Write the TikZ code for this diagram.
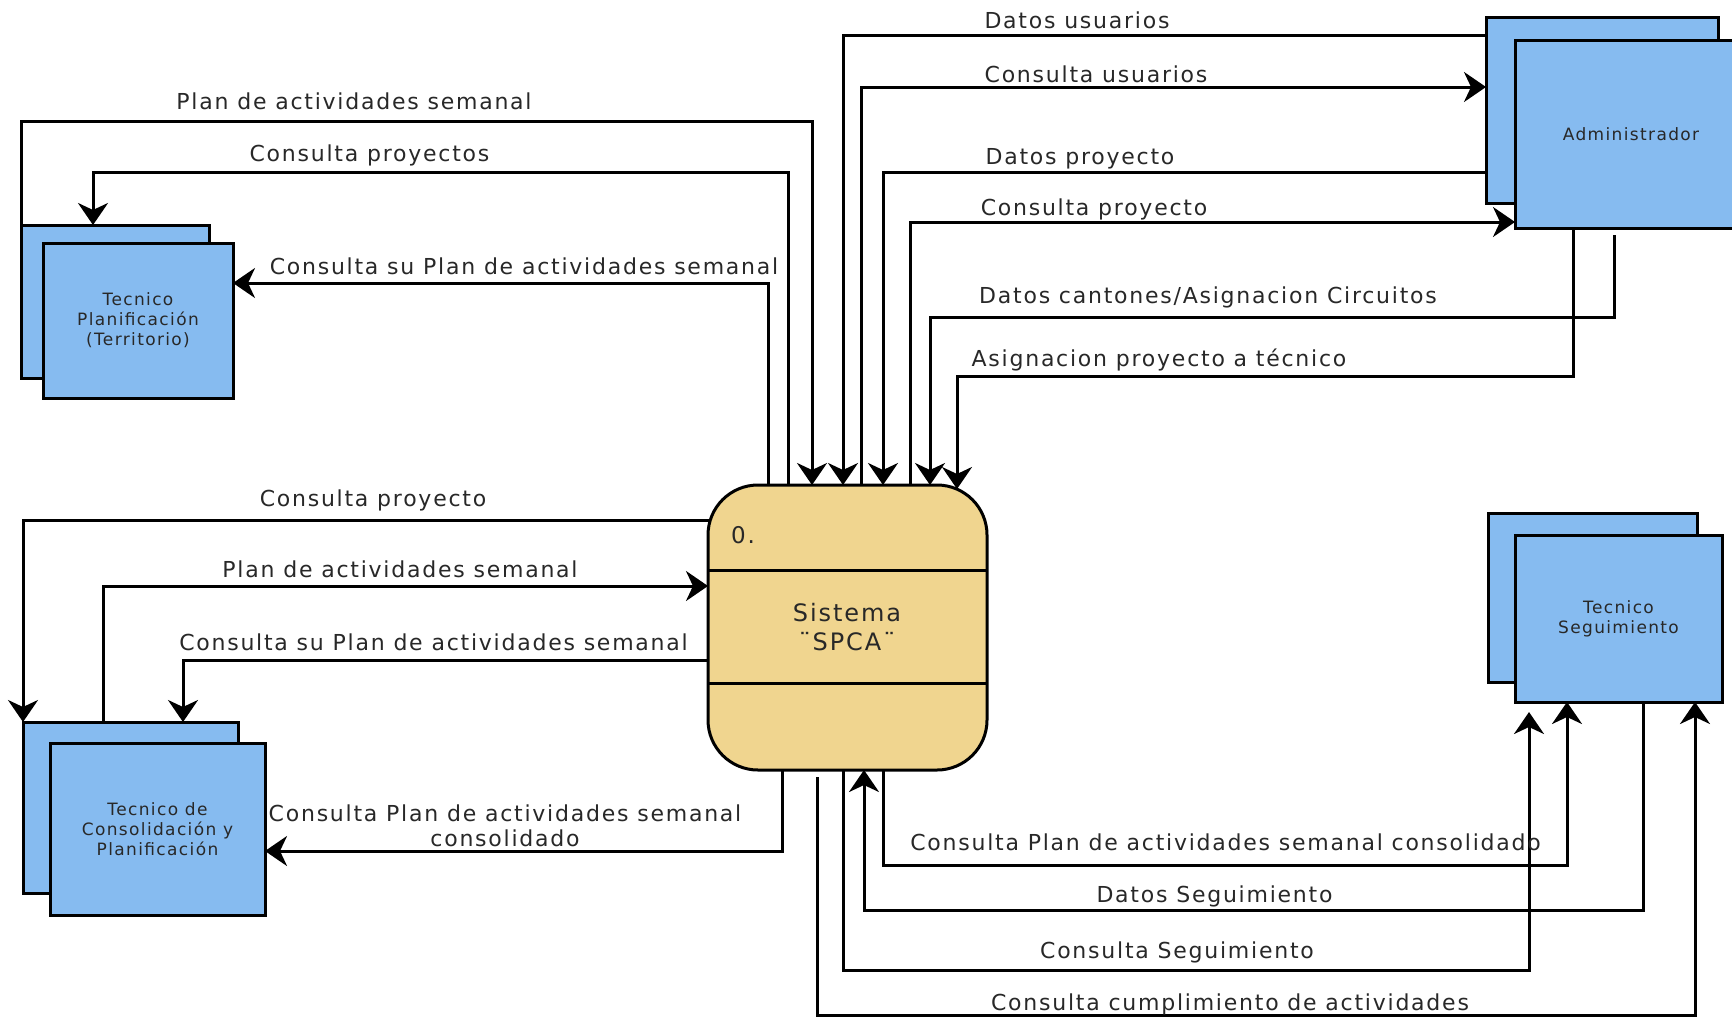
\documentclass[tikz,border=0pt]{standalone}
\usepackage{fontspec}
\setmainfont{DejaVu Sans}[LetterSpace=8]
\usetikzlibrary{arrows.meta,calc}
\definecolor{boxblue}{RGB}{134,187,240}
\definecolor{systan}{RGB}{240,213,143}
\definecolor{txt}{RGB}{40,40,40}
\begin{document}
\begin{tikzpicture}[x=0.5pt,y=-0.5pt,
  ent/.style={draw=black,line width=1.5pt,fill=boxblue,inner sep=0pt,outer sep=0pt,
    font=\fontsize{8.5}{10}\selectfont,text=txt,align=center},
  sysbox/.style={draw=black,line width=1.5pt,fill=systan,rounded corners=25pt,inner sep=0pt,outer sep=0pt,
    minimum width=139.5pt,minimum height=142.5pt},
  flow/.style={line width=1.5pt,-{Stealth[length=11pt,width=15pt,inset=3.5pt]}},
  plain/.style={line width=1.5pt},
  lbl/.style={font=\fontsize{11}{12.5}\selectfont,text=txt,inner sep=0pt,align=center}]
\fill[white] (0,0) rectangle (1732,1017);
\useasboundingbox (0,0) rectangle (1732,1017);
\clip (0,0) rectangle (1732,1017);

% external entities
\node[ent,minimum width=94pt,minimum height=76.5pt] (planB) at (115,301.5) {};
\node[ent,minimum width=95pt,minimum height=77.5pt] (planF) at (138,320.5) {Tecnico\\Planificación\\(Territorio)};
\node[ent,minimum width=107.5pt,minimum height=85.5pt] (consB) at (130.5,807.5) {};
\node[ent,minimum width=107.5pt,minimum height=86pt] (consF) at (157.5,829) {Tecnico de\\Consolidación y\\Planificación};
\node[ent,minimum width=116pt,minimum height=93pt] (admB) at (1602,110) {};
\node[ent,minimum width=116pt,minimum height=94pt] (admF) at (1631,134) {Administrador};
\node[ent,minimum width=104.5pt,minimum height=84.5pt] (segB) at (1592.5,597.5) {};
\node[ent,minimum width=103.5pt,minimum height=83.5pt] (segF) at (1618.5,618.5) {Tecnico\\Seguimiento};

% process
\node[sysbox] (sys) at (847.5,627.5) {};
\draw[plain] ($(sys.north west)+(0,85)$) -- ($(sys.north east)+(0,85)$);
\draw[plain] ($(sys.north west)+(0,198)$) -- ($(sys.north east)+(0,198)$);
\node[font=\fontsize{11.5}{13}\selectfont,text=txt,inner sep=0pt] (sysnum) at (743,535) {0.};
\node[font=\fontsize{12}{14.5}\selectfont,text=txt,align=center,inner sep=0pt] (sysname) at (847,627) {Sistema\\¨SPCA¨};

% flows top-left
\draw[flow] (planB.north west) -- ++(0,-104) -| ($(sys.north west)+(104,0)$);
\draw[flow] ($(sys.north west)+(80,0)$) -- ++(0,-313) -| ($(planB.north west)+(72,0)$);
\draw[flow] ($(sys.north west)+(60,0)$) |- ($(planF.north east)+(0,40)$);

% flows top-right
\draw[flow] ($(admB.north west)+(0,18)$) -| ($(sys.north west)+(135,0)$);
\draw[flow] ($(sys.north west)+(153,0)$) |- ($(admB.north west)+(0,70)$);
\draw[flow] ($(admB.north west)+(0,155)$) -| ($(sys.north west)+(175,0)$);
\draw[flow] ($(sys.north west)+(202,0)$) |- ($(admF.south west)+(0,-6)$);
\draw[flow] ($(admF.south west)+(99,7)$) -- ++(0,82) -| ($(sys.north west)+(222,0)$);
\draw[flow] ($(admF.south west)+(58,0)$) -- ++(0,148) -| ($(sys.north west)+(249,4)$);

% flows left
\draw[flow] ($(sys.north west)+(2,35)$) -| (consB.north west);
\draw[flow] ($(consB.north west)+(80,0)$) |- ($(sys.north west)+(0,101)$);
\draw[flow] ($(sys.north west)+(0,175)$) -| ($(consB.north west)+(160,0)$);
\draw[flow] ($(sys.south west)+(74,0)$) |- ($(consF.north east)+(0,108)$);

% flows bottom-right
\draw[flow] ($(sys.south west)+(175,0)$) -- ++(0,95) -| ($(segF.south west)+(52,0)$);
\draw[flow] ($(segF.south west)+(128,0)$) -- ++(0,208) -| ($(sys.south west)+(156,0)$);
\draw[flow] ($(sys.south west)+(135,0)$) -- ++(0,200) -| ($(segF.south west)+(14,10)$);
\draw[flow] ($(sys.south west)+(109,7)$) -- ++(0,238) -| ($(segF.south west)+(180,0)$);

% labels
\node[lbl] (t1) at (1077,20) {Datos usuarios};
\node[lbl] (t2) at (1096,74) {Consulta usuarios};
\node[lbl] (t3) at (1080,159) {Datos proyecto};
\node[lbl] (t4) at (1094,209) {Consulta proyecto};
\node[lbl] (t5) at (1208,297) {Datos cantones/Asignacion Circuitos};
\node[lbl] (t6) at (1159,360) {Asignacion proyecto a técnico};
\node[lbl] (t7) at (354,101) {Plan de actividades semanal};
\node[lbl] (t8) at (369.5,155) {Consulta proyectos};
\node[lbl] (t9) at (524,266) {Consulta su Plan de actividades semanal};
\node[lbl] (t10) at (373,500) {Consulta proyecto};
\node[lbl] (t11) at (400,569) {Plan de actividades semanal};
\node[lbl] (t12) at (433.5,642) {Consulta su Plan de actividades semanal};
\node[lbl] (t13) at (505,825.5) {Consulta Plan de actividades semanal\\consolidado};
\node[lbl] (t14) at (1225.5,842) {Consulta Plan de actividades semanal consolidado};
\node[lbl] (t15) at (1214.5,896) {Datos Seguimiento};
\node[lbl] (t16) at (1177,952) {Consulta Seguimiento};
\node[lbl] (t17) at (1230,1004) {Consulta cumplimiento de actividades};
\end{tikzpicture}
\end{document}
